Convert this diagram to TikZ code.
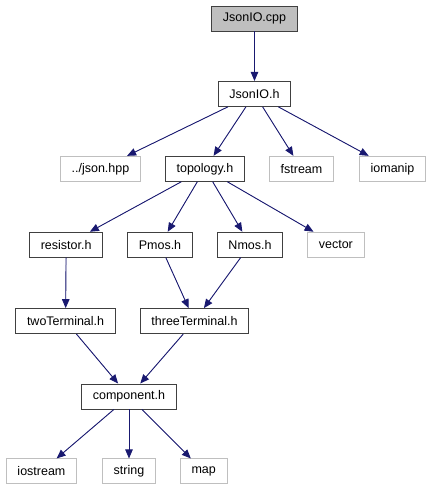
\documentclass[tikz,border=0pt]{standalone}
\usepackage{fontspec}
\setmainfont{Liberation Sans}
\usetikzlibrary{arrows.meta, positioning}

\definecolor{edgeblue}{HTML}{191970}
\definecolor{boxline}{HTML}{404040}
\definecolor{sysline}{HTML}{BFBFBF}

\begin{document}
\begin{tikzpicture}[
    >={Triangle[length=9pt,width=7.5pt]},
    x=1pt, y=1pt,
    node distance=49.5pt,
    every node/.style={
        font=\fontsize{12.5}{14}\selectfont,
        minimum height=25pt,
        inner xsep=11.2pt,
        inner ysep=0pt,
        line width=0.9pt
    },
    file/.style={draw=boxline, fill=white},
    sysfile/.style={draw=sysline, fill=white},
    current/.style={draw=boxline, fill=sysline},
    every path/.style={line width=0.9pt},
    dep/.style={->, draw=edgeblue, fill=edgeblue}
]
\useasboundingbox (0,0) rectangle (433,-485);

% ---------------- TOP ----------------
\node[current] (JIC) at (254.5,-18.5)                               {JsonIO.cpp};
\node[file]    (JIH) [below       =49.5pt           of JIC]          {JsonIO.h};

% ---------------- JsonIO.h INCLUDES ----------------
\node[file]    (TOP) [below       =49pt of JIH, xshift=-49.5pt]     {topology.h};
\node[sysfile] (JSN) [      left  =24pt             of TOP]          {../json.hpp};
\node[sysfile] (FST) [      right =24pt             of TOP]          {fstream};
\node[sysfile] (IOM) [      right =25pt             of FST]          {iomanip};

% ---------------- topology.h INCLUDES ----------------
\node[file]    (PMS) [below       =50pt of TOP, xshift=-45pt]       {Pmos.h};
\node[file]    (RES) [      left  =24pt             of PMS]          {resistor.h};
\node[file]    (NMS) [      right =24pt             of PMS]          {Nmos.h};
\node[sysfile] (VEC) [      right =24pt             of NMS]          {vector};

% ---------------- BASE CLASSES ----------------
\node[file]    (THR) [below       =50.5pt of PMS, xshift=34.5pt]    {threeTerminal.h};
\node[file]    (TWO) [      left  =24pt             of THR]          {twoTerminal.h};
\node[file]    (CMP) [below       =49.5pt of THR, xshift=-65.5pt]   {component.h};

% ---------------- STD ----------------
\node[sysfile] (STR) [below       =49pt             of CMP]          {string};
\node[sysfile] (IOS) [      left  =25pt             of STR]          {iostream};
\node[sysfile] (MAP) [      right =24pt             of STR]          {map};

% JsonIO.cpp:
\draw[dep] (JIC) to (JIH);

% JsonIO.h:
\draw[dep] (JIH) to (JSN);
\draw[dep] (JIH) to (TOP);
\draw[dep] (JIH) to (FST);
\draw[dep] (JIH) to (IOM);

% topology.h:
\draw[dep] (TOP) to (RES);
\draw[dep] (TOP) to (PMS);
\draw[dep] (TOP) to (NMS);
\draw[dep] (TOP) to (VEC);

% devices:
\draw[dep] (RES) to (TWO);
\draw[dep] (PMS) to (THR);
\draw[dep] (NMS) to (THR);
\draw[dep] (TWO) to (CMP);
\draw[dep] (THR) to (CMP);

% component.h:
\draw[dep] (CMP) to (IOS);
\draw[dep] (CMP) to (STR);
\draw[dep] (CMP) to (MAP);

\end{tikzpicture}
\end{document}
